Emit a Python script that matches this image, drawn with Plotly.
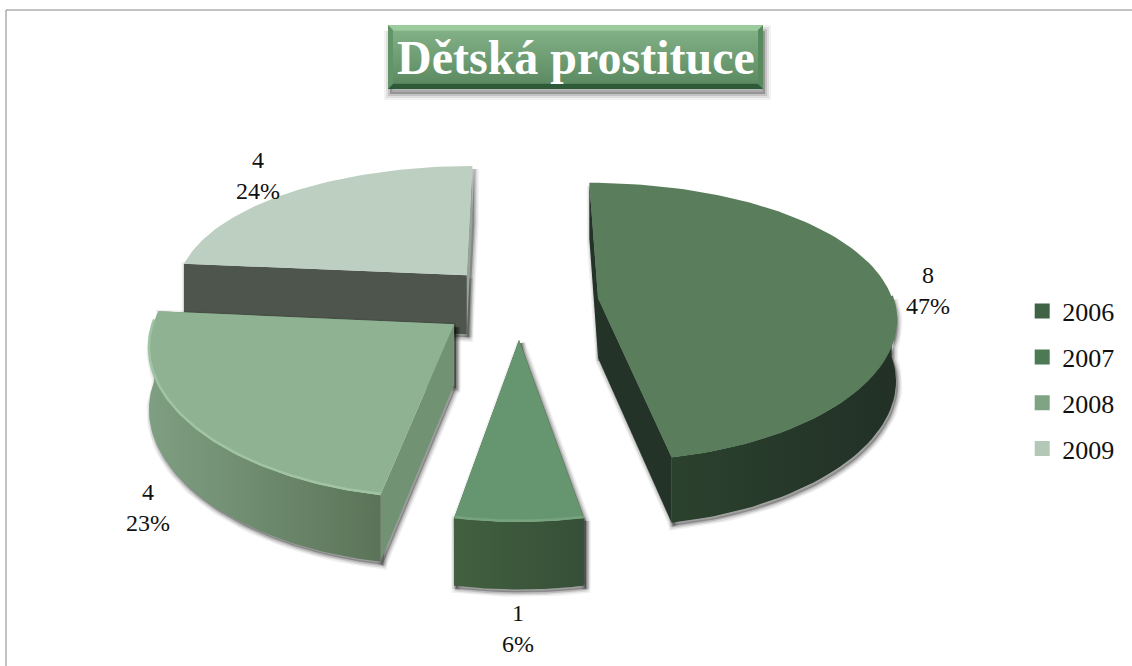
import numpy as np
import plotly.graph_objects as go

# ---- data ----
years = ["2006", "2007", "2008", "2009"]
values = [8, 1, 4, 4]
percent_labels = ["47%", "6%", "23%", "24%"]
title_text = "Dětská prostituce"

# ---- styles ----
top_colors = ["#5a7e5c", "#669670", "#8fb292", "#bccfc0"]
wall_left = ["#2b422e", "#42603f", "#7f9f82", "#4e554d"]
wall_right = ["#223026", "#364f38", "#5b7459", "#4e554d"]
cut_start = ["#233327", "#42603f", "#729274", "#4e554d"]
cut_end = ["#233327", "#42603f", "#729274", "#93a596"]
rim_colors = ["#5a7e5c", "#77a47e", "#a0c4a4", "#bccfc0"]
legend_colors = ["#3f6445", "#4d7a55", "#7ea484", "#b4c8b8"]
label_xy = [(928, 290), (518, 628), (148, 507), (258, 175)]
FONT = "Liberation Serif"

CX, CY, R, H, K, DEPTH, EXPLODE, START = 519, 301.5, 295, 136, 0.17, 60, 0.27, 0.0


def project(u, v):
    s = 1 / (1 - K * v)
    return CX + R * u * s ** 0.75, CY + H * v * s, s


def slice_points(a0, a1, mid):
    """Top-face outline pieces for a slice spanning angles a0..a1 (deg, clockwise from back)."""
    eu, ev = EXPLODE * np.sin(np.radians(mid)), -EXPLODE * np.cos(np.radians(mid))
    th = np.radians(np.linspace(a0, a1, 90))
    ax, ay, as_ = project(eu, ev)
    x, y, s = project(eu + np.sin(th), ev - np.cos(th))
    return (ax, ay, as_), (x, y, s), th


def poly(fig, x, y, color=None, grad=None, line=None, lw=0, opacity=1):
    kw = dict(fillcolor=color) if grad is None else dict(
        fillgradient=dict(type="horizontal", colorscale=[[0, grad[0]], [1, grad[1]]]))
    fig.add_trace(go.Scatter(x=list(x) + [x[0]], y=list(y) + [y[0]], mode="lines", fill="toself",
                             line=dict(width=lw, color=line or "rgba(0,0,0,0)"), opacity=opacity,
                             hoverinfo="skip", showlegend=False, **kw))


fig = go.Figure()

total = sum(values)
edges = START + np.concatenate([[0], np.cumsum(values)]) / total * 360

# title plate
bx0, bx1, by0, by1 = 388, 763, 25, 89
for w, a in [(12, 0.05), (8, 0.08), (4, 0.12)]:
    poly(fig, [bx0 + 2, bx1 + 2, bx1 + 2, bx0 + 2], [by0 + 6, by0 + 6, by1 + 5, by1 + 5],
         color=f"rgba(0,0,0,{a})", line=f"rgba(0,0,0,{a})", lw=w)
fig.add_trace(go.Scatter(x=[bx0, bx1, bx1, bx0, bx0], y=[by0, by0, by1, by1, by0], mode="lines", fill="toself",
                         line=dict(width=0), hoverinfo="skip", showlegend=False,
                         fillgradient=dict(type="vertical", colorscale=[[0, "#2f5a37"], [0.07, "#2f5a37"], [0.09, "#5c8a62"], [0.5, "#6f9e74"], [0.9, "#82b086"], [0.92, "#9ccb9e"], [1, "#9ccb9e"]])))
poly(fig, [bx0, bx0 + 5, bx0 + 5, bx0], [by0, by0 + 5, by1 - 5, by1], color="#639468")
poly(fig, [bx1, bx1 - 5, bx1 - 5, bx1], [by0, by0 + 5, by1 - 5, by1], color="#588a5e")

# slices, back to front
for i in [3, 0, 2, 1]:
    a0, a1 = edges[i], edges[i + 1]
    mid = (a0 + a1) / 2
    (ax, ay, as_), (x, y, s), th = slice_points(a0, a1, mid)
    d = DEPTH * s ** 0.5
    da = DEPTH * as_ ** 0.5

    # outer wall only where it faces the viewer
    vis = (np.cos(th) < 0.03)
    walls = []
    if vis.any():
        wx, wy, wd = x[vis], y[vis], d[vis]
        walls.append((np.r_[wx, wx[::-1]], np.r_[wy, (wy + wd)[::-1]]))
    cut1 = ([ax, x[0], x[0], ax], [ay, y[0], y[0] + d[0], ay + da])
    cut2 = ([ax, x[-1], x[-1], ax], [ay, y[-1], y[-1] + d[-1], ay + da])

    # soft shadow under the body
    for w, al in [(9, 0.06), (6, 0.09), (3, 0.14)]:
        for px, py in walls + [cut1, cut2]:
            poly(fig, np.array(px) + 2, np.array(py) + 3, color=f"rgba(0,0,0,{al})",
                 line=f"rgba(0,0,0,{al})", lw=w)

    poly(fig, *cut2, color=cut_end[i])
    poly(fig, *cut1, color=cut_start[i])
    for px, py in walls:
        poly(fig, px, py, grad=(wall_left[i], wall_right[i]))
    poly(fig, np.r_[ax, x], np.r_[ay, y], color=top_colors[i])
    if vis.any():
        fig.add_trace(go.Scatter(x=x[vis], y=y[vis] - 1, mode="lines", hoverinfo="skip", showlegend=False,
                                 line=dict(width=2.5, color=rim_colors[i])))

# legend entries
for yr, col in zip(years, legend_colors):
    fig.add_trace(go.Scatter(x=[None], y=[None], mode="markers", name=yr, legendgroup=yr,
                             marker=dict(symbol="square", size=15, color=col, line=dict(width=0))))

annotations = [dict(x=(bx0 + bx1) / 2, y=(by0 + by1) / 2, text=f"<b>{title_text}</b>", showarrow=False,
                    font=dict(family=FONT, size=48, color="white"))]
for v, p, (lx, ly) in zip(values, percent_labels, label_xy):
    annotations.append(dict(x=lx, y=ly, text=f"{v}<br>{p}", showarrow=False,
                            font=dict(family=FONT, size=24, color="#111")))

fig.update_layout(
    width=1132, height=666, margin=dict(l=0, r=0, t=0, b=0),
    paper_bgcolor="white", plot_bgcolor="white",
    xaxis=dict(range=[0, 1132], visible=False, fixedrange=True),
    yaxis=dict(range=[666, 0], visible=False, fixedrange=True),
    legend=dict(x=0.903, y=0.568, xanchor="left", yanchor="top", tracegroupgap=9,
                font=dict(family=FONT, size=26, color="#111"), itemwidth=30, bgcolor="rgba(0,0,0,0)"),
    annotations=annotations,
    shapes=[dict(type="line", x0=6, x1=1132, y0=10, y1=10, line=dict(color="#868686", width=1)),
            dict(type="line", x0=6, x1=6, y0=10, y1=666, line=dict(color="#868686", width=1))],
)
fig.write_html("out.html", config=dict(displayModeBar=False),
               post_script="document.body.style.margin='0';document.body.style.overflow='hidden';")
